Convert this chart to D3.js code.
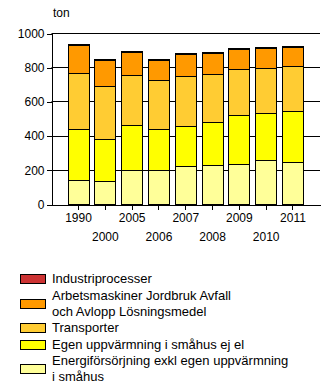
<!DOCTYPE html>
<html>
<head>
<meta charset="utf-8">
<script src="https://cdn.jsdelivr.net/npm/d3@7/dist/d3.min.js"></script>
<style>
  html, body { margin: 0; padding: 0; background: #fff; }
  svg { display: block; }
  text { font-family: Arial, "Liberation Sans", sans-serif; fill: #000; }
</style>
</head>
<body>
<svg id="chart" width="330" height="387"></svg>
<script>
// Emissions per year, ton, by sector (bottom to top of each stack)
const years = ["1990", "2000", "2005", "2006", "2007", "2008", "2009", "2010", "2011"];
const energiforsorjning = [142, 133, 201, 201, 220, 226, 234, 256, 244];
const egenUppvarmning   = [295, 249, 259, 236, 236, 252, 285, 274, 298];
const transporter       = [327, 306, 293, 286, 291, 280, 269, 264, 263];
const arbetsmaskiner    = [166, 156, 133, 119, 130, 125, 118, 118, 113];
const industriprocesser = [6, 6, 6, 6, 6, 6, 6, 6, 6];

const seriesKeys = ["energi", "egen", "transp", "arbets", "industri"];
const seriesValues = [energiforsorjning, egenUppvarmning, transporter, arbetsmaskiner, industriprocesser];
const seriesColors = ["#FFFF99", "#FFFF00", "#FFCC33", "#FF9900", "#CC3333"];
const legendLabels = [
  ["Energiförsörjning exkl egen uppvärmning", "i småhus"],
  ["Egen uppvärmning i småhus ej el"],
  ["Transporter"],
  ["Arbetsmaskiner Jordbruk Avfall", "och Avlopp Lösningsmedel"],
  ["Industriprocesser"]
];
const yTicks = [0, 200, 400, 600, 800, 1000];
const unitLabel = "ton";

const rows = years.map((yr, i) => {
  const r = { year: yr };
  seriesKeys.forEach((k, j) => { r[k] = seriesValues[j][i]; });
  return r;
});

const svg = d3.select("#chart");
const plotLeft = 51.5, plotRight = 320, plotBottom = 204.5, plotTop = 33.5;

const x = d3.scaleBand().domain(years).range([plotLeft, plotRight])
  .paddingInner(0.216).paddingOuter(0.617);
const y = d3.scaleLinear().domain([0, 1000]).range([plotBottom, plotTop]);
const snap = v => Math.round(v - 0.5) + 0.5;

// gridlines
svg.append("g").selectAll("line").data(yTicks.filter(t => t > 0)).join("line")
  .attr("x1", plotLeft).attr("x2", plotRight)
  .attr("y1", d => snap(y(d))).attr("y2", d => snap(y(d)))
  .attr("stroke", "#000").attr("stroke-width", 1);

// stacked bars
const stacked = d3.stack().keys(seriesKeys)(rows);
svg.append("g").selectAll("g").data(stacked).join("g")
  .attr("fill", (d, i) => seriesColors[i])
  .selectAll("rect").data(d => d).join("rect")
  .attr("x", d => snap(x(d.data.year)))
  .attr("width", Math.round(x.bandwidth()))
  .attr("y", d => snap(y(d[1])))
  .attr("height", d => snap(y(d[0])) - snap(y(d[1])))
  .attr("stroke", "#000").attr("stroke-width", 1);

// y axis
const yAxis = svg.append("g").attr("transform", `translate(${plotLeft},0)`)
  .call(d3.axisLeft(y).tickValues(yTicks).tickFormat(d3.format("d"))
    .tickSize(5).tickSizeOuter(0).tickPadding(2));
yAxis.attr("font-family", null).attr("font-size", 12);
yAxis.selectAll("line, path").attr("stroke", "#000").attr("shape-rendering", "crispEdges");

// x axis, labels alternate between two rows
const xAxis = svg.append("g").attr("transform", `translate(0,${plotBottom})`)
  .call(d3.axisBottom(x).tickSize(5).tickSizeOuter(0));
xAxis.attr("font-family", null).attr("font-size", 12);
xAxis.selectAll("line, path").attr("stroke", "#000").attr("shape-rendering", "crispEdges");
xAxis.selectAll("text")
  .attr("dy", null)
  .attr("y", (d, i) => (i % 2 === 0 ? 17.5 : 36.5));

svg.append("text").attr("x", 53).attr("y", 16.7).attr("font-size", 12).text(unitLabel);

// legend, top entry first
const lg = svg.append("g");
let base = 283;
for (let i = seriesKeys.length - 1; i >= 0; i--) {
  const lines = legendLabels[i];
  const meanBase = base + (lines.length - 1) * 8;
  lg.append("rect")
    .attr("x", 20.5).attr("y", Math.round(meanBase - 9) + 0.5)
    .attr("width", 25).attr("height", 9)
    .attr("fill", seriesColors[i]).attr("stroke", "#000");
  lines.forEach((ln, k) => {
    lg.append("text").attr("x", 52).attr("y", base + k * 16)
      .attr("font-size", 13).text(ln);
  });
  base += lines.length * 16 + 0.6;
}
</script>
</body>
</html>
